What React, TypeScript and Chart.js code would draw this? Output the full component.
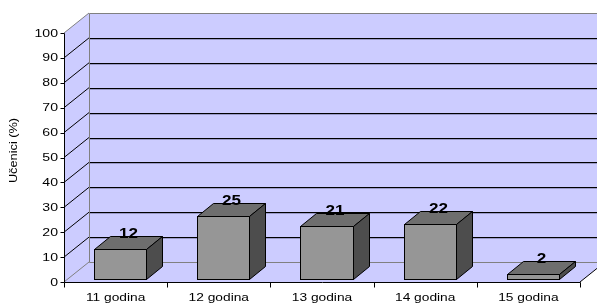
import React, { useEffect, useRef } from "react";
import { Chart, registerables } from "chart.js";

Chart.register(...registerables);

const categories = ["11 godina", "12 godina", "13 godina", "14 godina", "15 godina"];
const values = [12, 25, 21, 22, 2];
const yMin = 0;
const yMax = 100;
const yStep = 10;
const yTitle = "Učenici (%)";

const WALL = "#CCCCFF";
const WALL_EDGE = "#808080";
const FRONT = "#969696";
const TOP = "#6E6E6E";
const SIDE = "#4D4D4D";
const FONT = "'Liberation Sans', Arial, sans-serif";

// depth of the 3D box and the bars
const DX = 25;
const DY = -20;
const BDX = 16;
const BDY = -13;
const GX = (DX - BDX) / 2;
const GY = (DY - BDY) / 2;

function stretchedText(ctx: CanvasRenderingContext2D, text: string, x: number, y: number, sx: number) {
  ctx.save();
  ctx.translate(x, y);
  ctx.scale(sx, 1);
  ctx.fillText(text, 0, 0);
  ctx.restore();
}

const h = (v: number) => Math.round(v) + 0.5;

const threeD = {
  id: "threeD",
  beforeDatasetsDraw(chart: any) {
    const { ctx, chartArea } = chart;
    const { left, right, top, bottom } = chartArea;
    const ys = chart.scales.y;
    const xs = chart.scales.x;
    ctx.save();
    // walls
    ctx.fillStyle = WALL;
    ctx.fillRect(left + DX, top + DY, right - left, bottom - top);
    ctx.beginPath();
    ctx.moveTo(left, top);
    ctx.lineTo(left + DX, top + DY);
    ctx.lineTo(left + DX, bottom + DY);
    ctx.lineTo(right + DX, bottom + DY);
    ctx.lineTo(right, bottom);
    ctx.lineTo(left, bottom);
    ctx.closePath();
    ctx.fill();

    // grid lines
    ctx.lineWidth = 1;
    ys.ticks.forEach((t: any) => {
      if (t.value === yMin || t.value === yMax) return;
      const y = ys.getPixelForValue(t.value);
      ctx.strokeStyle = "#9A9AC8";
      ctx.beginPath();
      ctx.moveTo(h(left + DX), h(y + DY) + 1);
      ctx.lineTo(h(right + DX), h(y + DY) + 1);
      ctx.stroke();
      ctx.strokeStyle = "#000";
      ctx.beginPath();
      ctx.moveTo(left, y);
      ctx.lineTo(left + DX, y + DY);
      ctx.moveTo(h(left + DX), h(y + DY));
      ctx.lineTo(h(right + DX), h(y + DY));
      ctx.stroke();
    });

    // wall edges
    ctx.strokeStyle = WALL_EDGE;
    ctx.beginPath();
    ctx.moveTo(left, top);
    ctx.lineTo(left + DX, top + DY);
    ctx.moveTo(h(left + DX), h(top + DY));
    ctx.lineTo(h(right + DX) + 10, h(top + DY));
    ctx.moveTo(h(left + DX), h(top + DY));
    ctx.lineTo(h(left + DX), h(bottom + DY));
    ctx.lineTo(h(right + DX), h(bottom + DY));
    ctx.moveTo(left, bottom);
    ctx.lineTo(left + DX, bottom + DY);
    ctx.stroke();

    // axes
    ctx.strokeStyle = "#000";
    ctx.beginPath();
    ctx.moveTo(h(left), h(top));
    ctx.lineTo(h(left), h(bottom));
    ctx.lineTo(h(right), h(bottom));
    ctx.moveTo(right, bottom);
    ctx.lineTo(right + DX, bottom + DY);
    ctx.stroke();

    // y ticks + labels
    ctx.fillStyle = "#000";
    ctx.font = `11px ${FONT}`;
    ctx.textAlign = "right";
    ctx.textBaseline = "middle";
    ys.ticks.forEach((t: any) => {
      const y = ys.getPixelForValue(t.value);
      ctx.beginPath();
      ctx.moveTo(h(left) - 4, h(y));
      ctx.lineTo(h(left), h(y));
      ctx.stroke();
      stretchedText(ctx, String(t.value), left - 6, y + 0.5, 1.28);
    });

    // x ticks + labels
    const n = categories.length;
    const bounds: number[] = [left];
    for (let i = 0; i < n - 1; i++) {
      bounds.push((xs.getPixelForValue(i) + xs.getPixelForValue(i + 1)) / 2);
    }
    bounds.push(right);
    ctx.beginPath();
    bounds.forEach((bx) => {
      ctx.moveTo(h(bx), h(bottom));
      ctx.lineTo(h(bx), h(bottom) + 5);
    });
    ctx.stroke();
    ctx.textAlign = "center";
    ctx.textBaseline = "alphabetic";
    categories.forEach((c, i) => {
      stretchedText(ctx, c, xs.getPixelForValue(i), bottom + 19, 1.25);
    });

    // y title
    ctx.save();
    ctx.translate(17, (top + bottom) / 2 - 7);
    ctx.rotate(-Math.PI / 2);
    ctx.scale(1.16, 1);
    ctx.textAlign = "center";
    ctx.textBaseline = "alphabetic";
    ctx.font = `11px ${FONT}`;
    ctx.fillText(yTitle, 0, 0);
    ctx.restore();

    ctx.restore();
  },
  afterDatasetsDraw(chart: any) {
    const { ctx } = chart;
    const meta = chart.getDatasetMeta(0);
    ctx.save();
    ctx.lineWidth = 1;
    ctx.strokeStyle = "#000";
    meta.data.forEach((el: any, i: number) => {
      const { x, y, base, width } = el.getProps(["x", "y", "base", "width"], true);
      const l = Math.round(x - width / 2 + GX) + 0.5;
      const r = Math.round(x + width / 2 + GX) + 0.5;
      const t = Math.round(y + GY) + 0.5;
      const b = Math.round(base + GY) + 0.5;
      // front
      ctx.fillStyle = FRONT;
      ctx.fillRect(l, t, r - l, b - t);
      ctx.strokeRect(l, t, r - l, b - t);
      // top
      ctx.fillStyle = TOP;
      ctx.beginPath();
      ctx.moveTo(l, t);
      ctx.lineTo(l + BDX, t + BDY);
      ctx.lineTo(r + BDX, t + BDY);
      ctx.lineTo(r, t);
      ctx.closePath();
      ctx.fill();
      ctx.stroke();
      // side
      ctx.fillStyle = SIDE;
      ctx.beginPath();
      ctx.moveTo(r, t);
      ctx.lineTo(r + BDX, t + BDY);
      ctx.lineTo(r + BDX, b + BDY);
      ctx.lineTo(r, b);
      ctx.closePath();
      ctx.fill();
      ctx.stroke();
      // label
      ctx.fillStyle = "#000";
      ctx.font = `bold 14px ${FONT}`;
      ctx.textAlign = "center";
      ctx.textBaseline = "alphabetic";
      stretchedText(ctx, String(values[i]), (l + r) / 2 + BDX / 2, t + BDY + 1, 1.22);
    });
    ctx.restore();
  },
};

export default function App() {
  const ref = useRef<HTMLCanvasElement>(null);
  useEffect(() => {
    document.body.style.margin = "0";
    const chart = new Chart(ref.current!, {
      type: "bar",
      data: {
        labels: categories,
        datasets: [
          {
            data: values,
            backgroundColor: "rgba(0,0,0,0)",
            borderWidth: 0,
            categoryPercentage: 1,
            barPercentage: 0.504,
          },
        ],
      },
      options: {
        responsive: false,
        animation: false,
        devicePixelRatio: 1,
        layout: { padding: { left: 64, top: 33, right: 17, bottom: 21 } },
        plugins: { legend: { display: false }, tooltip: { enabled: false } },
        scales: {
          x: { display: false },
          y: { display: false, min: yMin, max: yMax, ticks: { stepSize: yStep } },
        },
      },
      plugins: [threeD],
    });
    return () => chart.destroy();
  }, []);
  return (
    <div style={{ width: 597, height: 303, background: "#fff" }}>
      <canvas ref={ref} width={597} height={303} style={{ display: "block" }} />
    </div>
  );
}
